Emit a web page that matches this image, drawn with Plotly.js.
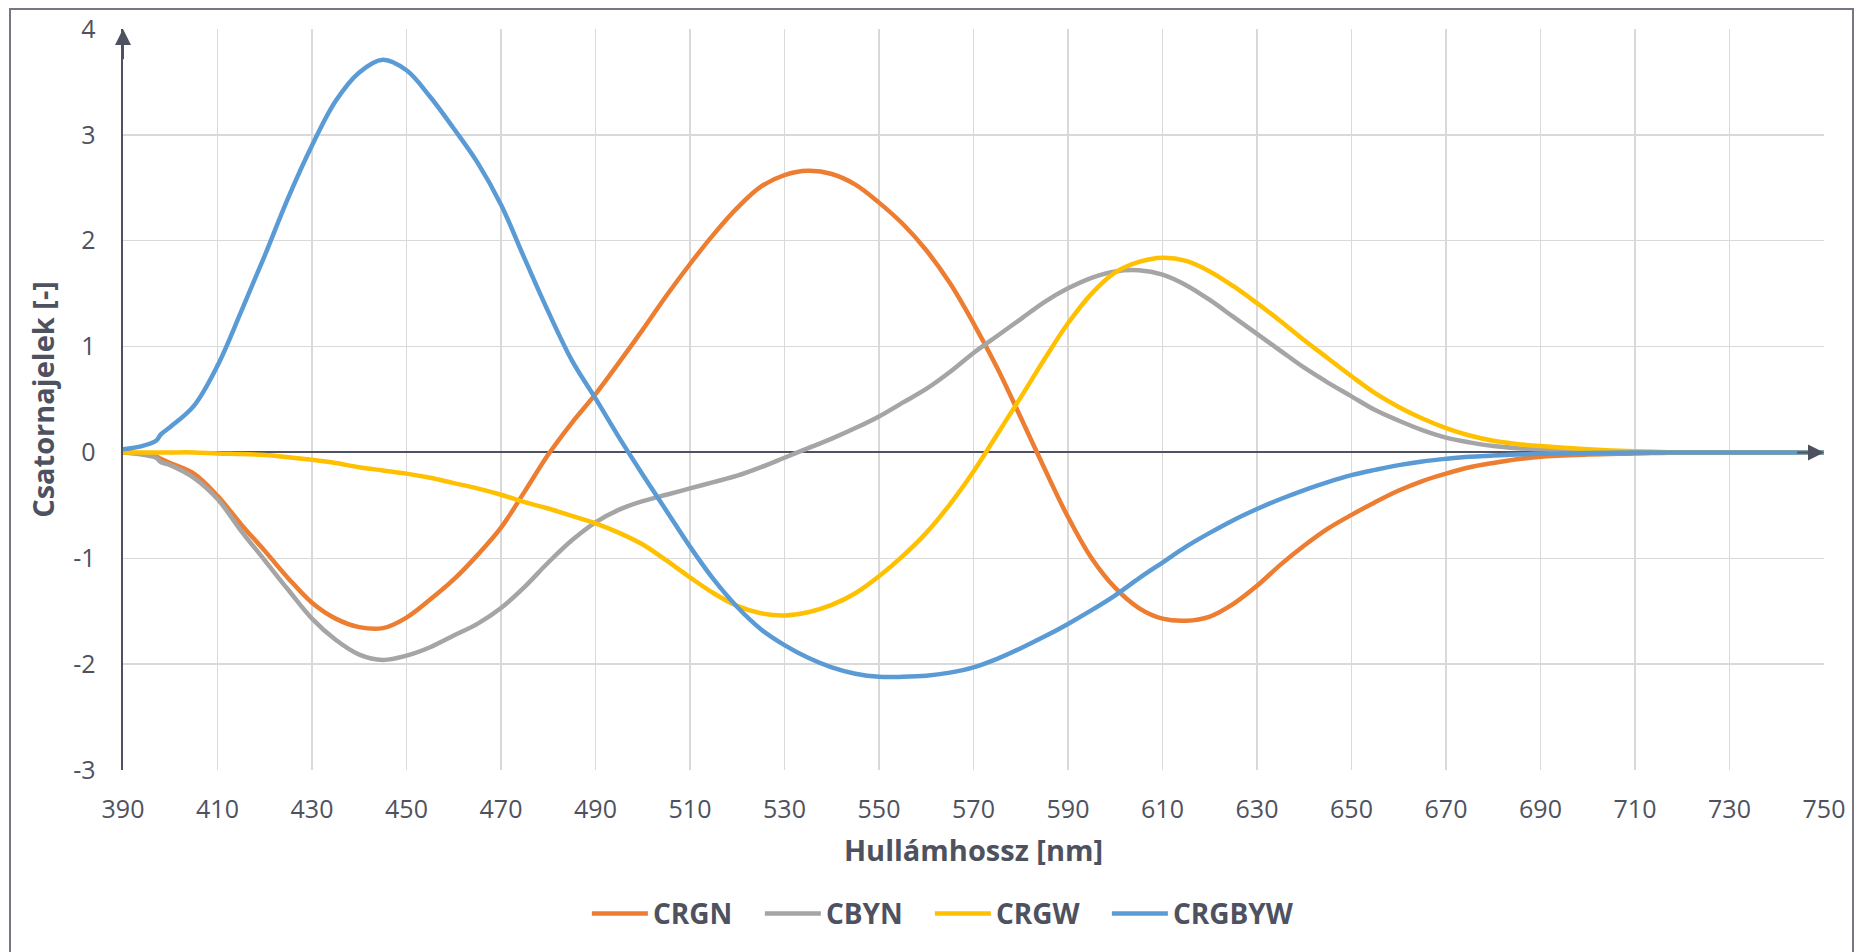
<!DOCTYPE html>
<html>
<head>
<meta charset="utf-8">
<script src="https://cdn.plot.ly/plotly-3.0.1.min.js"></script>
<style>
html,body{margin:0;padding:0;background:#fff;overflow:hidden;}
#wrap{position:relative;width:1860px;height:952px;}
#chart{width:1860px;height:952px;}
#frame{position:absolute;left:9px;top:8px;width:1845px;height:944px;border:2px solid #757883;border-bottom:none;box-sizing:border-box;pointer-events:none;}
</style>
</head>
<body>
<div id="wrap"><div id="chart"></div><div id="frame"></div></div>
<script>
// Wavelength [nm]
const wavelength = [390,394,397,398,400,
  405,410,415,420,425,430,435,440,445,450,455,460,465,470,475,480,485,490,495,500,
  505,510,515,520,525,530,535,540,545,550,555,560,565,570,575,580,585,590,595,600,
  605,610,615,620,625,630,635,640,645,650,655,660,665,670,675,680,685,690,
  700,710,720,730,740,750];

const CRGN = [0,-0.01,-0.04,-0.06,-0.10,
  -0.20,-0.41,-0.68,-0.93,-1.19,-1.42,-1.57,-1.65,-1.66,-1.56,-1.39,-1.20,-0.97,-0.71,-0.37,-0.02,0.28,0.55,0.85,1.16,
  1.48,1.78,2.06,2.31,2.51,2.62,2.66,2.63,2.53,2.36,2.16,1.91,1.60,1.22,0.80,0.33,-0.15,-0.61,-1.00,-1.28,
  -1.47,-1.57,-1.59,-1.55,-1.43,-1.26,-1.06,-0.88,-0.72,-0.59,-0.47,-0.36,-0.27,-0.20,-0.14,-0.10,-0.065,-0.04,
  -0.02,-0.01,0,0,0,0];

const CBYN = [0,-0.02,-0.05,-0.09,-0.12,
  -0.24,-0.44,-0.74,-1.02,-1.30,-1.57,-1.77,-1.91,-1.96,-1.92,-1.84,-1.73,-1.62,-1.47,-1.27,-1.04,-0.83,-0.66,-0.54,-0.46,
  -0.40,-0.34,-0.28,-0.22,-0.14,-0.05,0.04,0.13,0.23,0.34,0.47,0.60,0.76,0.94,1.10,1.26,1.42,1.55,1.65,1.71,
  1.72,1.68,1.58,1.44,1.28,1.12,0.96,0.80,0.66,0.53,0.40,0.30,0.21,0.14,0.095,0.06,0.04,0.03,
  0.01,0.005,0,0,0,0];

const CRGW = [0,0,0,0,0,
  0,-0.01,-0.015,-0.025,-0.045,-0.07,-0.10,-0.14,-0.17,-0.20,-0.24,-0.29,-0.34,-0.40,-0.47,-0.53,-0.60,-0.67,-0.76,-0.87,
  -1.02,-1.18,-1.33,-1.45,-1.52,-1.54,-1.51,-1.44,-1.33,-1.17,-0.98,-0.76,-0.49,-0.18,0.17,0.52,0.88,1.22,1.50,1.70,
  1.80,1.84,1.81,1.71,1.57,1.41,1.24,1.06,0.89,0.72,0.56,0.43,0.32,0.23,0.16,0.11,0.08,0.06,
  0.03,0.01,0,0,0,0];

const CRGBYW = [0.03,0.06,0.11,0.17,0.24,
  0.44,0.82,1.33,1.86,2.41,2.90,3.32,3.59,3.71,3.61,3.36,3.06,2.74,2.34,1.83,1.33,0.87,0.51,0.14,-0.21,
  -0.55,-0.89,-1.20,-1.46,-1.67,-1.82,-1.94,-2.03,-2.09,-2.12,-2.12,-2.11,-2.08,-2.03,-1.95,-1.85,-1.74,-1.62,-1.49,-1.35,
  -1.19,-1.04,-0.89,-0.76,-0.64,-0.535,-0.44,-0.355,-0.28,-0.215,-0.165,-0.12,-0.085,-0.06,-0.04,-0.03,-0.02,-0.013,
  -0.005,0,0,0,0,0];

const seriesNames = ['CRGN','CBYN','CRGW','CRGBYW'];
const seriesValues = [CRGN, CBYN, CRGW, CRGBYW];
const seriesColors = ['#ED7D31','#A5A5A5','#FFC000','#5B9BD5'];
const legendWidths = [102, 99, 106, 0];

const yTickVals = [-3,-2,-1,0,1,2,3,4];
const yTickText = ['-3','-2','-1','0','1','2','3','4'];

const xTitle = 'Hullámhossz [nm]';
const yTitle = 'Csatornajelek [-]';

const textColor = '#4e5260';
const axisColor = '#4e5260';
const gridColor = '#d9d9d9';
const FONT = 'Open Sans, Noto Sans, DejaVu Sans, sans-serif';

const traces = seriesNames.map((name, i) => {
  const t = {
    type: 'scatter',
    mode: 'lines',
    name: name,
    x: wavelength,
    y: seriesValues[i],
    line: {color: seriesColors[i], width: 4.5, shape: 'spline', smoothing: 1}
  };
  if (legendWidths[i]) t.legendwidth = legendWidths[i];
  return t;
});

const layout = {
  width: 1860,
  height: 952,
  margin: {l: 123, r: 36, t: 29, b: 182},
  paper_bgcolor: '#ffffff',
  plot_bgcolor: '#ffffff',
  font: {family: FONT, color: textColor},
  showlegend: true,
  legend: {
    orientation: 'h',
    x: 0.482, xanchor: 'center',
    y: -0.194, yanchor: 'middle',
    font: {family: FONT, size: 28, color: textColor, weight: 'bold'},
    itemwidth: 56,
    traceorder: 'normal'
  },
  xaxis: {
    range: [390, 750],
    tick0: 390, dtick: 20,
    showgrid: true, gridcolor: gridColor, gridwidth: 1.5,
    zeroline: false, showline: false,
    ticks: '',
    ticklabelstandoff: 22,
    tickfont: {family: FONT, size: 25, color: textColor},
    title: {text: xTitle, font: {family: FONT, size: 29, color: textColor, weight: 'bold'}, standoff: 16},
    fixedrange: true
  },
  yaxis: {
    range: [-3, 4],
    tickmode: 'array', tickvals: yTickVals, ticktext: yTickText,
    showgrid: true, gridcolor: gridColor, gridwidth: 1.5,
    zeroline: true, zerolinecolor: axisColor, zerolinewidth: 2,
    showline: true, linecolor: axisColor, linewidth: 2.5,
    ticks: '',
    ticklabelstandoff: 20,
    tickfont: {family: FONT, size: 25, color: textColor},
    title: {text: yTitle, font: {family: FONT, size: 29, color: textColor, weight: 'bold'}, standoff: 10},
    fixedrange: true
  },
  annotations: [
    {x: 390, y: 4, ax: 390, ay: 3.7, xref: 'x', yref: 'y', axref: 'x', ayref: 'y',
     text: '', showarrow: true, arrowhead: 2, arrowsize: 1.6, arrowwidth: 2, arrowcolor: axisColor, standoff: 0},
    {x: 750, y: 0, ax: 744, ay: 0, xref: 'x', yref: 'y', axref: 'x', ayref: 'y',
     text: '', showarrow: true, arrowhead: 2, arrowsize: 1.6, arrowwidth: 2, arrowcolor: axisColor, standoff: 0}
  ]
};

Plotly.newPlot('chart', traces, layout, {displayModeBar: false, staticPlot: true});
</script>
</body>
</html>
